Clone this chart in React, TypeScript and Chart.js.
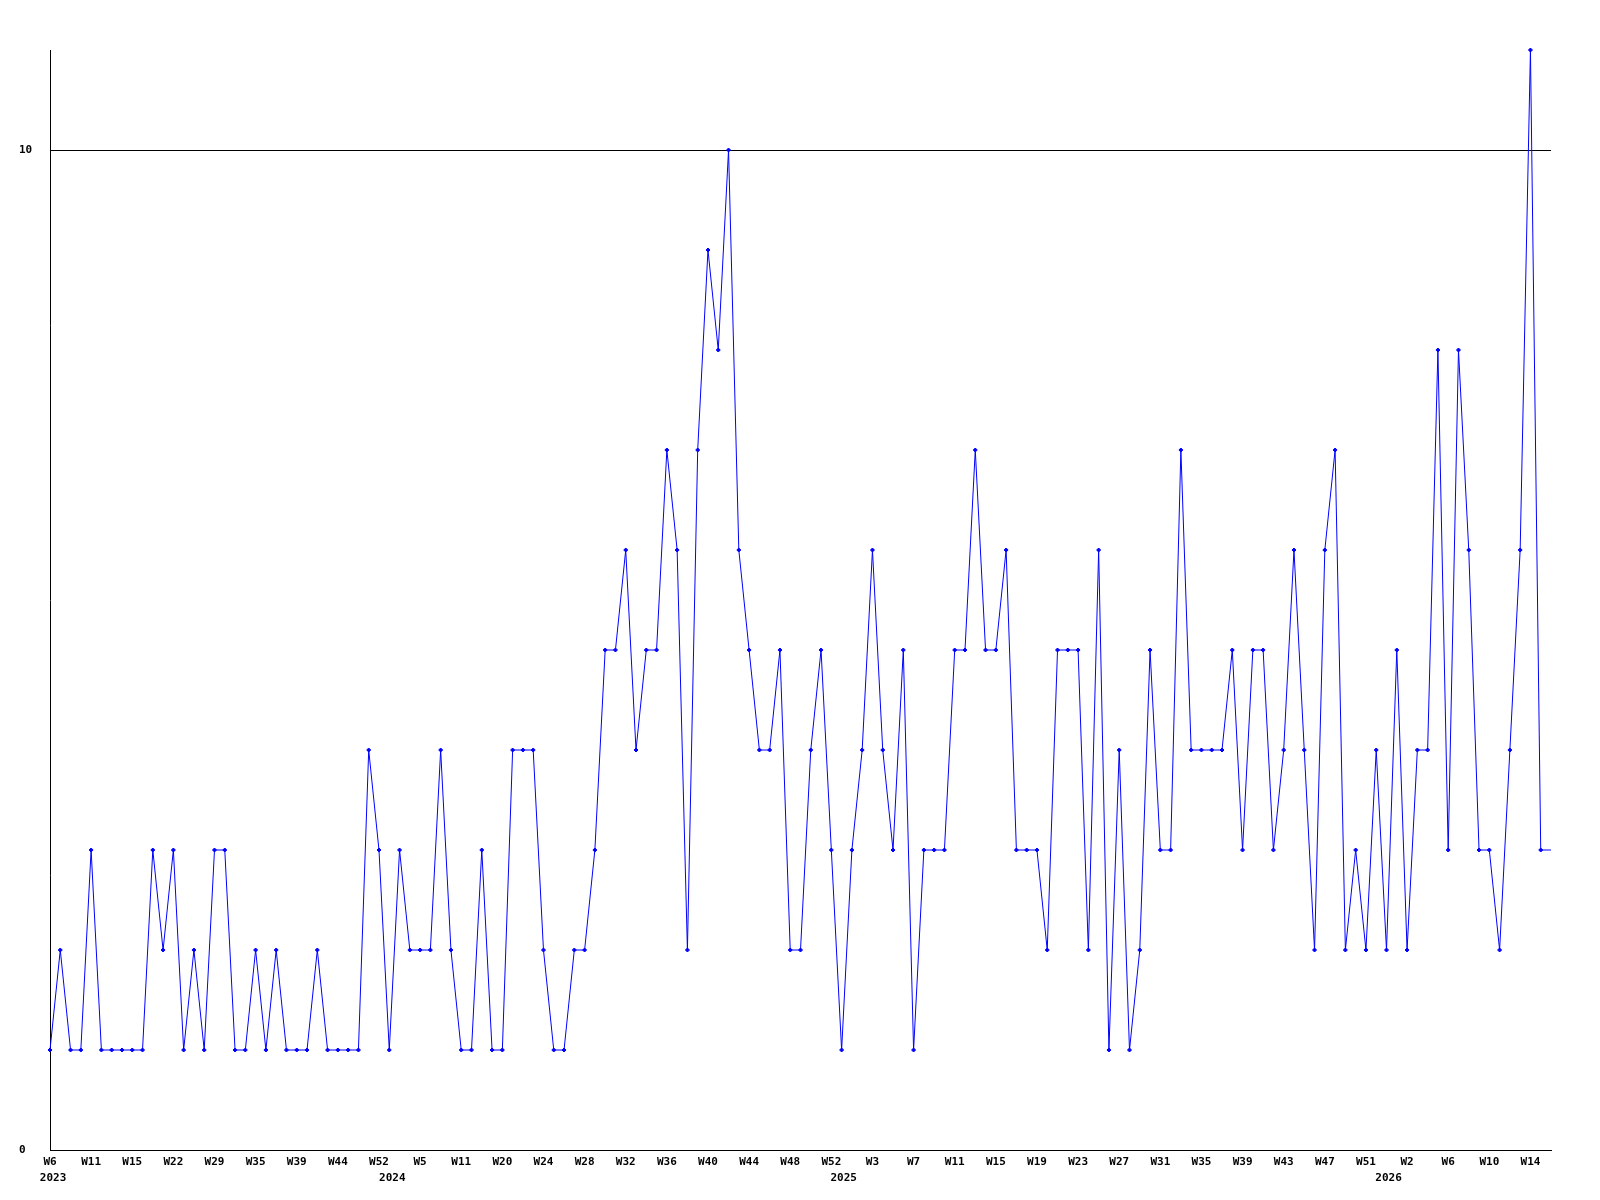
import React, { useEffect, useRef } from "react";
import { Chart, registerables } from "chart.js";

Chart.register(...registerables);

// Weekly values, one per plotted week (the last entry is the trailing edge value, drawn without a marker)
const weeklyValues: number[] = [
  1, 2, 1, 1, 3, 1, 1, 1, 1, 1,
  3, 2, 3, 1, 2, 1, 3, 3, 1, 1,
  2, 1, 2, 1, 1, 1, 2, 1, 1, 1,
  1, 4, 3, 1, 3, 2, 2, 2, 4, 2,
  1, 1, 3, 1, 1, 4, 4, 4, 2, 1,
  1, 2, 2, 3, 5, 5, 6, 4, 5, 5,
  7, 6, 2, 7, 9, 8, 10, 6, 5, 4,
  4, 5, 2, 2, 4, 5, 3, 1, 3, 4,
  6, 4, 3, 5, 1, 3, 3, 3, 5, 5,
  7, 5, 5, 6, 3, 3, 3, 2, 5, 5,
  5, 2, 6, 1, 4, 1, 2, 5, 3, 3,
  7, 4, 4, 4, 4, 5, 3, 5, 5, 3,
  4, 6, 4, 2, 6, 7, 2, 3, 2, 4,
  2, 5, 2, 4, 4, 8, 3, 8, 6, 3,
  3, 2, 4, 6, 11, 3,
  3,
];

// Week tick labels, shown on every 4th point
const weekTickLabels: string[] = [
  "W6", "W11", "W15", "W22", "W29", "W35", "W39", "W44", "W52",
  "W5", "W11", "W20", "W24", "W28", "W32", "W36", "W40", "W44", "W48", "W52",
  "W3", "W7", "W11", "W15", "W19", "W23", "W27", "W31", "W35", "W39", "W43", "W47", "W51",
  "W2", "W6", "W10", "W14",
];
const tickEvery = 4;

// Year labels and where each sits along the week axis (in point-index units)
const yearLabels: string[] = ["2023", "2024", "2025", "2026"];
const yearPositions: number[] = [0.3, 33.3, 77.2, 130.2];

// Y axis tick values
const yTickValues: number[] = [0, 10];
const yMax = 11;

const FONT_FAMILY = "'DejaVu Sans Mono', 'Liberation Mono', monospace";

export default function App() {
  const canvasRef = useRef<HTMLCanvasElement | null>(null);

  useEffect(() => {
    const canvas = canvasRef.current;
    if (!canvas) return;

    const labels = weeklyValues.map((_, i) =>
      i % tickEvery === 0 && weekTickLabels[i / tickEvery] !== undefined
        ? weekTickLabels[i / tickEvery]
        : ""
    );
    const lastIndex = weeklyValues.length - 1;

    const yearPlugin = {
      id: "yearLabels",
      afterDraw(chart: any) {
        const ctx = chart.ctx;
        const xScale = chart.scales.x;
        ctx.save();
        ctx.font = `bold 11px ${FONT_FAMILY}`;
        ctx.fillStyle = "#000000";
        ctx.textAlign = "center";
        ctx.textBaseline = "middle";
        yearLabels.forEach((label, i) => {
          const x = xScale.getPixelForValue(yearPositions[i]);
          ctx.fillText(label, x, 1178);
        });
        ctx.restore();
      },
    };

    const chart = new Chart(canvas, {
      type: "line",
      data: {
        labels,
        datasets: [
          {
            data: weeklyValues,
            borderColor: "#0000ff",
            backgroundColor: "#0000ff",
            borderWidth: 1,
            tension: 0,
            fill: false,
            pointStyle: "rectRot",
            pointRadius: weeklyValues.map((_, i) => (i === lastIndex ? 0 : 2)),
            pointBorderWidth: 1,
            pointBorderColor: "#0000ff",
            pointBackgroundColor: "#0000ff",
            clip: false as any,
          },
        ],
      },
      options: {
        responsive: false,
        animation: false,
        events: [],
        layout: {
          padding: { left: 19, right: 49, top: 50, bottom: 0 },
        },
        plugins: {
          legend: { display: false },
          tooltip: { enabled: false },
          title: { display: false },
        },
        scales: {
          x: {
            type: "category",
            offset: false,
            grid: { display: false, drawTicks: false },
            border: { display: true, color: "#000000", width: 1 },
            ticks: {
              autoSkip: false,
              maxRotation: 0,
              minRotation: 0,
              color: "#000000",
              padding: 6,
              font: { family: FONT_FAMILY, size: 11, weight: "bold" },
              callback: (_v: any, i: number) => (labels[i] ? labels[i] : null),
            },
            afterFit: (scale: any) => {
              scale.height = 50;
            },
          },
          y: {
            min: 0,
            max: yMax,
            grid: {
              display: true,
              color: "#000000",
              lineWidth: 1,
              drawTicks: false,
            },
            border: { display: true, color: "#000000", width: 1 },
            ticks: {
              color: "#000000",
              crossAlign: "far",
              padding: 0,
              font: { family: FONT_FAMILY, size: 11, weight: "bold" },
            },
            afterBuildTicks: (scale: any) => {
              scale.ticks = yTickValues.map((v) => ({ value: v }));
            },
            afterFit: (scale: any) => {
              scale.width = 31;
            },
          },
        },
      },
      plugins: [yearPlugin],
    });

    return () => {
      chart.destroy();
    };
  }, []);

  return (
    <div style={{ position: "absolute", left: 0, top: 0, width: 1600, height: 1200, background: "#ffffff" }}>
      <canvas ref={canvasRef} width={1600} height={1200} style={{ display: "block" }} />
    </div>
  );
}
